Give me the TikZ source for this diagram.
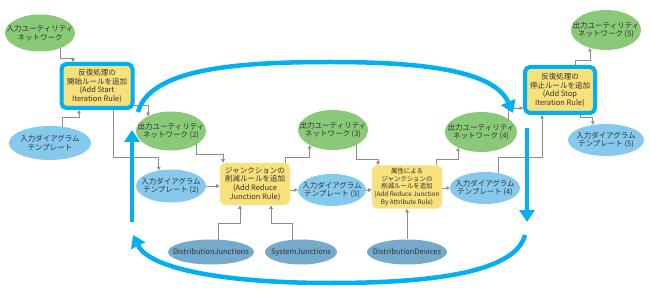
\documentclass[tikz,border=0pt]{standalone}
\usepackage{fontspec}
\setmainfont{Noto Sans CJK JP}
\usetikzlibrary{arrows.meta,shapes.geometric,calc}
\definecolor{netgreen}{RGB}{137,201,120}
\definecolor{tplblue}{RGB}{134,201,238}
\definecolor{srcblue}{RGB}{116,170,203}
\definecolor{ruleyellow}{RGB}{248,224,122}
\definecolor{loopcyan}{RGB}{0,176,240}
\definecolor{wiregray}{RGB}{140,140,140}
\definecolor{textgray}{RGB}{50,50,50}
\pgfdeclarelayer{background}
\pgfsetlayers{background,main}
\tikzset{
  txt/.style={align=center, inner sep=0pt, text=textgray, font=\fontsize{7.5}{8.6}\selectfont},
  oval/.style={ellipse, inner sep=0pt},
  netw/.style={oval, fill=netgreen, minimum width=70pt, minimum height=39pt},
  tmpl/.style={oval, fill=tplblue, minimum width=70pt, minimum height=33pt},
  source/.style={oval, fill=srcblue, minimum width=80pt, minimum height=25pt},
  rulebox/.style={
    rectangle,
    rounded corners=5pt,
    fill=ruleyellow,
    draw=ruleyellow!60!white,
    line width=0.6pt,
    minimum width=70pt,
    minimum height=42pt,
    align=center,
    inner sep=1pt,
    text=textgray,
    font=\fontsize{7.5}{8.6}\selectfont
  },
  iterbox/.style={rulebox, draw=loopcyan, line width=4pt, minimum width=71pt, minimum height=44pt},
  wire/.style={draw=wiregray, line width=0.7pt, -{Triangle[length=3.5pt,width=3.5pt]}},
  cyclearrow/.style={draw=loopcyan, line width=4.5pt, -{Triangle[length=12pt,width=15pt]}}
}

\begin{document}
\begin{tikzpicture}[x=1pt, y=-1pt]
  \useasboundingbox (0,0) rectangle (650,291);
  % start of the iteration
  \node[netw, minimum height=37pt, label={[txt]center:{入力ユーティリティ\\ネットワーク}}] (in1) at (40,33) {};
  \node[tmpl, minimum width=82pt, minimum height=34pt, label={[txt]center:{入力ダイアグラム\\テンプレート}}] (tpl1) at (50,143) {};
  \node[iterbox] (box1) at (97,86) {反復処理の\\開始ルールを追加\\(Add Start\\Iteration Rule)};
  % reduce junction rules
  \node[netw, label={[txt]center:{出力ユーティリティ\\ネットワーク (2)}}] (out2) at (171,131) {};
  \node[tmpl, label={[txt]center:{入力ダイアグラム\\テンプレート (2)}}] (tpl2) at (171,186) {};
  \node[rulebox] (box2) at (255,184) {ジャンクションの\\削減ルールを追加\\(Add Reduce\\Junction Rule)};
  \node[netw, minimum height=40pt, label={[txt]center:{出力ユーティリティ\\ネットワーク (3)}}] (out3) at (333,130) {};
  \node[tmpl, minimum width=68pt, minimum height=32pt, label={[txt]center:{入力ダイアグラム\\テンプレート (3)}}] (tpl3) at (332,190) {};
  \node[rulebox, minimum height=43pt, font=\fontsize{6.4}{7.8}\selectfont] (box3) at (407,187) {属性による\\ジャンクションの\\削減ルールを追加\\(Add Reduce Junction\\By Attribute Rule)};
  \node[netw, minimum width=72pt, minimum height=40pt, label={[txt]center:{出力ユーティリティ\\ネットワーク (4)}}] (out4) at (481,132) {};
  \node[tmpl, minimum height=32pt, label={[txt]center:{入力ダイアグラム\\テンプレート (4)}}] (tpl4) at (485,188) {};
  % stop of the iteration
  \node[iterbox, minimum width=70pt, minimum height=46pt] (box4) at (560,90) {反復処理の\\停止ルールを追加\\(Add Stop\\Iteration Rule)};
  \node[netw, minimum height=40pt, label={[txt]center:{出力ユーティリティ\\ネットワーク (5)}}] (out5) at (606,30) {};
  \node[tmpl, minimum width=76pt, minimum height=32pt, label={[txt]center:{入力ダイアグラム\\テンプレート (5)}}] (tpl5) at (606,140) {};
  % feature classes
  \node[source, minimum width=86pt, label={[txt]center:DistributionJunctions}] (dj) at (211,252) {};
  \node[source, minimum width=72pt, label={[txt]center:SystemJunctions}] (sj) at (301,252) {};
  \node[source, label={[txt]center:DistributionDevices}] (dd) at (407,252) {};

  \begin{pgfonlayer}{background}
    \fill[white] (0,0) rectangle (650,291);
    \draw[wire] ($(in1.center)+(20,0)$) |- ($(box1.north)+(-24,-4)$) -- ($(box1.north)+(-24,0)$);
    \draw[wire] ($(tpl1.center)+(12,0)$) |- ($(box1.south)+(-18,7)$) -- ($(box1.south)+(-18,0)$);
    \draw[wire] ($(box1.center)+(30,19)$) -| (out2.147);
    \draw[wire] ($(box1.center)+(16,0)$) |- ($(tpl2.128)+(0,-13)$) -- (tpl2.128);
    \draw[wire] ($(out2.center)+(25,0)$) |- ($(box2.north)+(-32,-8)$) -- ($(box2.north)+(-32,0)$);
    \draw[wire] (tpl2.east) -- (tpl2.east -| box2.west);
    \draw[wire] ($(box2.center)+(30,0)$) |- ($(out3.213)+(0,12)$) -- (out3.213);
    \draw[wire] (tpl3.west -| box2.east) -- (tpl3.west);
    \draw[wire] ($(out3.center)+(23,0)$) |- ($(box3.north)+(-29,-6)$) -- ($(box3.north)+(-29,0)$);
    \draw[wire] (tpl3.east) -- (tpl3.east -| box3.west);
    \draw[wire] ($(box3.center)+(29,0)$) |- ($(out4.214)+(0,12)$) -- (out4.214);
    \draw[wire] (tpl4.west -| box3.east) -- (tpl4.west);
    \draw[wire] ($(out4.center)+(27,0)$) |- ($(box4.west)+(0,18)$);
    \draw[wire] ($(tpl4.center)+(13,0)$) |- ($(box4.south)+(-18,42)$) -- ($(box4.south)+(-18,0)$);
    \draw[wire] ($(box4.center)+(15,0)$) |- ($(out5.228)+(0,12)$) -- (out5.228);
    \draw[wire] ($(box4.center)+(20,0)$) |- ($(tpl5.131)+(0,-7)$) -- (tpl5.131);
    \draw[wire] ($(dj.center)+(7,0)$) |- ($(box2.south)+(-15,18)$) -- ($(box2.south)+(-15,0)$);
    \draw[wire] ($(sj.center)+(-9,0)$) |- ($(box2.south)+(16,18)$) -- ($(box2.south)+(16,0)$);
    \draw[wire] (dd) -- (box3.south);
  \end{pgfonlayer}

  % iteration loop
  \coordinate (topS) at (138,112);
  \coordinate (topE) at (513,113);
  \coordinate (downS) at (527,128);
  \coordinate (downE) at (527,222);
  \coordinate (botS) at (525,235);
  \coordinate (botE) at (133,235);
  \coordinate (upS) at (132,222);
  \coordinate (upE) at (132,130);
  \draw[cyclearrow] (topS) .. controls (150,70) and (230,62) .. (330,62) .. controls (430,62) and (495,72) .. (topE);
  \draw[cyclearrow] (downS) -- (downE);
  \draw[cyclearrow] (botS) .. controls (515,275) and (420,283) .. (330,283) .. controls (230,283) and (150,270) .. (botE);
  \draw[cyclearrow] (upS) -- (upE);
\end{tikzpicture}
\end{document}
